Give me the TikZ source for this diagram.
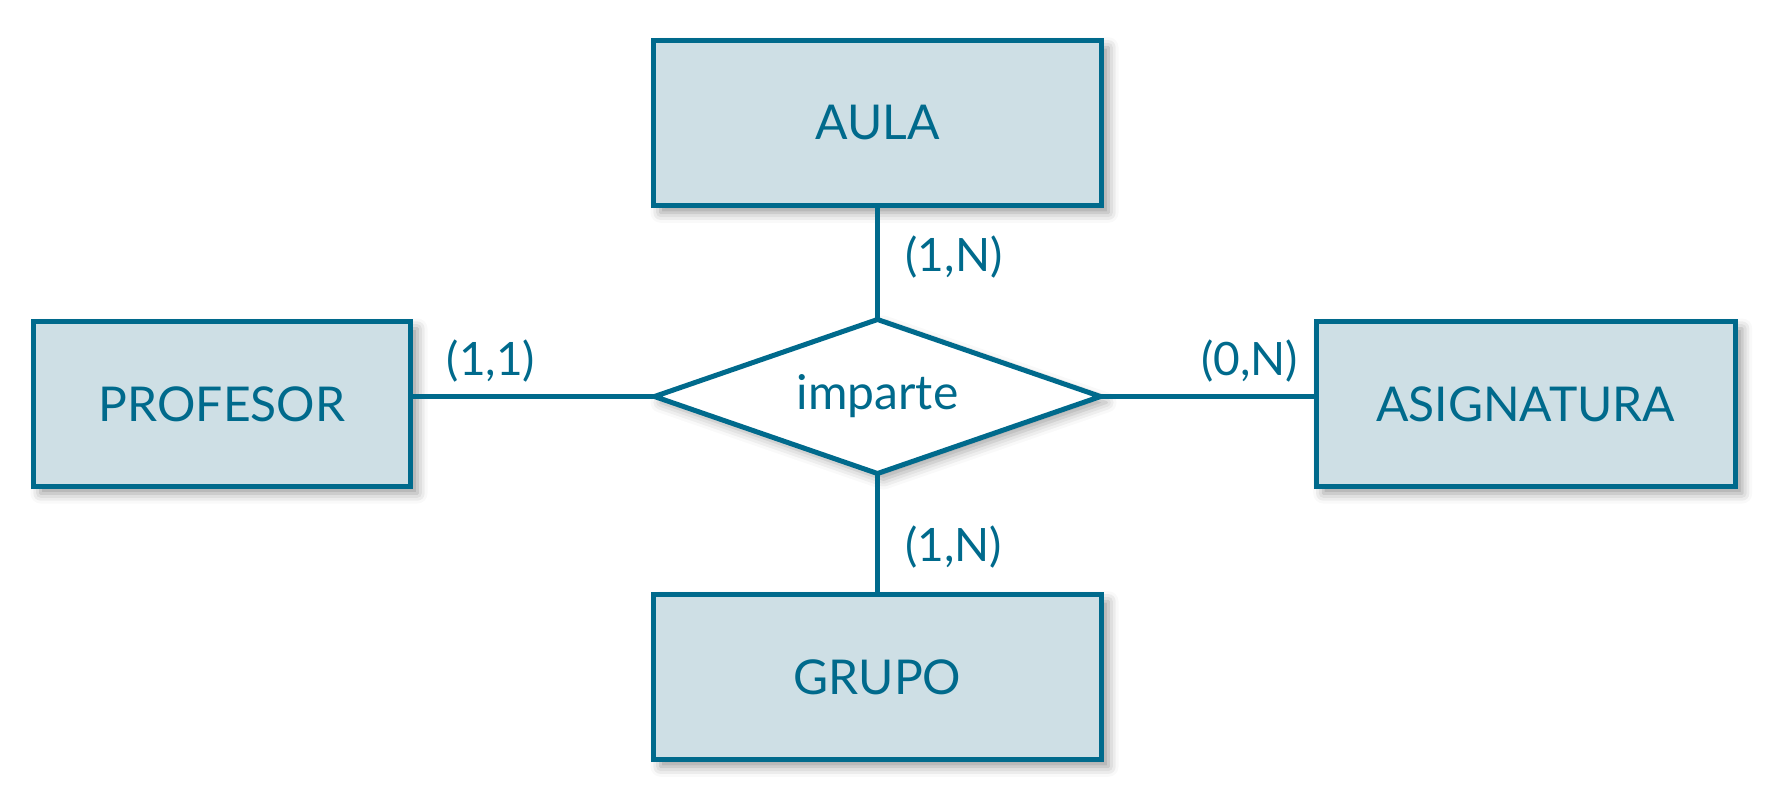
\documentclass[tikz,border=0pt]{standalone}
\usepackage{fontspec}
\setmainfont{Lato}
\usetikzlibrary{shapes.geometric,shadows.blur}
\definecolor{erblue}{HTML}{006A8C}
\definecolor{erfill}{HTML}{CEDFE5}

\tikzset{
  entity/.style={draw=erblue,fill=erfill,line width=2.7pt,inner sep=0pt,outer sep=0pt,
    text=erblue,font=\fontsize{24}{28}\selectfont,
    blur shadow={shadow xshift=3.5pt,shadow yshift=-3.5pt,shadow blur radius=5pt,
      shadow opacity=40}},
  relation/.style={diamond,aspect=2.8,draw=erblue,fill=white,line width=2.5pt,inner sep=0pt,
    outer sep=0pt,text=erblue,font=\fontsize{24}{28}\selectfont,
    minimum width=223pt,minimum height=77pt,
    blur shadow={shadow xshift=3pt,shadow yshift=-3pt,shadow blur radius=5pt,
      shadow opacity=35}},
  link/.style={draw=erblue,line width=2.4pt},
  card/.style={text=erblue,inner sep=0pt,font=\fontsize{23}{27}\selectfont},
}

\begin{document}
\begin{tikzpicture}[x=0.5pt,y=-0.5pt]
\useasboundingbox (0,0) rectangle (1782,810);
% entidades
\node[entity,minimum width=224pt,minimum height=82.75pt] (aula) at (877.5,123) {AULA};
\node[entity,minimum width=224pt,minimum height=82.75pt] (grupo) at (877.5,677) {GRUPO};
\node[entity,minimum width=188.5pt,minimum height=82.5pt] (profesor) at (222,404) {PROFESOR};
\node[entity,minimum width=209.5pt,minimum height=82.5pt] (asignatura) at (1525.7,404) {ASIGNATURA};
% relacion
\node[relation] (imparte) at (877.5,396.5) {imparte};
% conexiones
\draw[link] (aula) -- (imparte);
\draw[link] (imparte) -- (grupo);
\draw[link] (imparte.west) -- (imparte.west -| profesor.east);
\draw[link] (imparte.east) -- (imparte.east -| asignatura.west);
% cardinalidades
\node[card] (cardAula) at (954,257) {(1,N)};
\node[card] (cardProfesor) at (491,361) {(1,1)};
\node[card] (cardAsignatura) at (1249.6,361) {(0,N)};
\node[card] (cardGrupo) at (953.5,547) {(1,N)};
\end{tikzpicture}
\end{document}
